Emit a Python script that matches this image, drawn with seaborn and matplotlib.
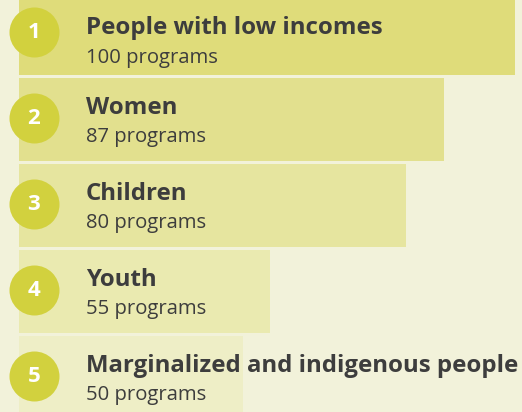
import matplotlib
matplotlib.use("Agg")
import matplotlib.pyplot as plt
import matplotlib.transforms as mtransforms
import seaborn as sns
import pandas as pd

categories = ["People with low incomes", "Women", "Children", "Youth",
              "Marginalized and indigenous people"]
programs = [100, 87, 80, 55, 50]
ranks = ["1", "2", "3", "4", "5"]
bar_colors = ["#dfdc7a", "#e2e08e", "#e6e59f", "#eaeab0", "#eeeec6"]

BG = "#f2f2da"
CIRCLE = "#d2d13e"
TEXT = "#3d3d3d"

W, H, DPI = 522, 412, 100
sns.set_theme(style="white")
plt.rcParams["font.family"] = ["Open Sans", "DejaVu Sans"]

fig = plt.figure(figsize=(W / DPI, H / DPI), dpi=DPI, facecolor=BG)
ax = fig.add_axes([19 / W, 0, 1 - 19 / W, 1])
ax.set_facecolor(BG)

df = pd.DataFrame({"category": categories, "programs": programs})
sns.barplot(data=df, x="programs", y="category", hue="category",
            palette=bar_colors, legend=False, dodge=False, width=83 / 86,
            orient="h", ax=ax, saturation=1)
for p in ax.patches:
    p.set_edgecolor("none")

ax.set_xlim(8.99, 101.28)
ax.set_ylim((412 - 33.5) / 86, -33.5 / 86)
ax.axis("off")

blend = mtransforms.blended_transform_factory(fig.transFigure, ax.transData)
px = 1 / 86.0  # one pixel in y data units
for i, (cat, val, rk) in enumerate(zip(categories, programs, ranks)):
    ax.scatter([34 / W], [i - 1.5 * px], s=(50 * 72 / DPI) ** 2, color=CIRCLE,
               transform=blend, clip_on=False, zorder=3, linewidths=0)
    ax.text(34 / W, i - 1.5 * px, rk, transform=blend, ha="center", va="center",
            color="white", fontsize=16, fontweight="bold",
            family=["Open Sans", "DejaVu Sans"], zorder=4)
    off = 7 * px if i == 0 else 0
    ax.text(86 / W, i - 6 * px + off, cat, transform=blend, ha="left",
            va="baseline", color=TEXT, fontsize=17.3, fontweight="bold")
    ax.text(86 / W, i + 22.5 * px + off, f"{val} programs", transform=blend,
            ha="left", va="baseline", color=TEXT, fontsize=14.6)

fig.savefig("out.png", dpi=DPI, facecolor=BG)
